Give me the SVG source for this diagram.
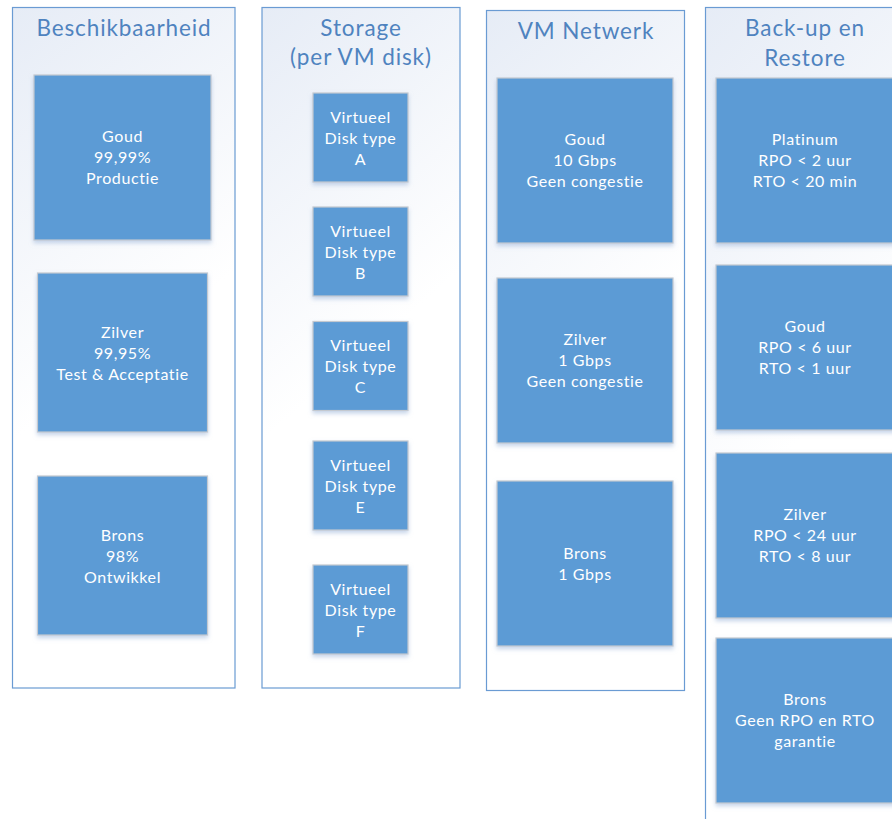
<svg xmlns="http://www.w3.org/2000/svg" width="892" height="819" viewBox="0 0 892 819">
<defs>
  <linearGradient id="cg" x1="0" y1="0" x2="0.25" y2="1">
    <stop offset="0" stop-color="#e6ecf6"/>
    <stop offset="0.6" stop-color="#ffffff"/>
    <stop offset="1" stop-color="#ffffff"/>
  </linearGradient>
  <filter id="sh" x="-10%" y="-10%" width="120%" height="125%">
    <feDropShadow dx="0" dy="2.5" stdDeviation="2" flood-color="#9fb8dc" flood-opacity="0.6"/>
  </filter>
</defs>
<style>
  .cont { fill: url(#cg); stroke: #6a9bd3; stroke-width: 1.2; }
  .box { fill: #5b9bd5; stroke: #c4c9d0; stroke-width: 1.2; filter: url(#sh); }
  .hdr { font-family: Lato, "Open Sans", sans-serif; font-size: 22.5px; letter-spacing: 0.9px; fill: #4f83bf; text-anchor: middle; }
  .lbl { font-family: Lato, "Open Sans", sans-serif; font-size: 16px; letter-spacing: 0.6px; fill: #ffffff; text-anchor: middle; }
</style>
<rect width="892" height="819" fill="#ffffff"/>

<g id="col-beschikbaarheid">
  <rect class="cont" x="12.5" y="7.5" width="222.5" height="680.5"/>
  <text class="hdr" x="124" y="36">Beschikbaarheid</text>
  <g id="besch-goud">
    <rect class="box" x="34" y="75" width="177" height="165"/>
    <text class="lbl" x="122.5" y="142">Goud</text>
    <text class="lbl" x="122.5" y="163">99,99%</text>
    <text class="lbl" x="122.5" y="184">Productie</text>
  </g>
  <g id="besch-zilver">
    <rect class="box" x="37.5" y="273" width="170" height="159"/>
    <text class="lbl" x="122.5" y="338">Zilver</text>
    <text class="lbl" x="122.5" y="359">99,95%</text>
    <text class="lbl" x="122.5" y="380">Test &amp; Acceptatie</text>
  </g>
  <g id="besch-brons">
    <rect class="box" x="37.5" y="476" width="170" height="159"/>
    <text class="lbl" x="122.5" y="541">Brons</text>
    <text class="lbl" x="122.5" y="562">98%</text>
    <text class="lbl" x="122.5" y="583">Ontwikkel</text>
  </g>
</g>

<g id="col-storage">
  <rect class="cont" x="262" y="7.5" width="198" height="680.5"/>
  <text class="hdr" x="361" y="36">Storage</text>
  <text class="hdr" x="361" y="65">(per VM disk)</text>
  <g id="disk-a">
    <rect class="box" x="313" y="93" width="95" height="89"/>
    <text class="lbl" x="360.5" y="122.5">Virtueel</text>
    <text class="lbl" x="360.5" y="143.5">Disk type</text>
    <text class="lbl" x="360.5" y="164.5">A</text>
  </g>
  <g id="disk-b">
    <rect class="box" x="313" y="207" width="95" height="89"/>
    <text class="lbl" x="360.5" y="236.5">Virtueel</text>
    <text class="lbl" x="360.5" y="257.5">Disk type</text>
    <text class="lbl" x="360.5" y="278.5">B</text>
  </g>
  <g id="disk-c">
    <rect class="box" x="313" y="321.5" width="95" height="89"/>
    <text class="lbl" x="360.5" y="350.5">Virtueel</text>
    <text class="lbl" x="360.5" y="371.5">Disk type</text>
    <text class="lbl" x="360.5" y="392.5">C</text>
  </g>
  <g id="disk-e">
    <rect class="box" x="313" y="441" width="95" height="89"/>
    <text class="lbl" x="360.5" y="470.5">Virtueel</text>
    <text class="lbl" x="360.5" y="491.5">Disk type</text>
    <text class="lbl" x="360.5" y="512.5">E</text>
  </g>
  <g id="disk-f">
    <rect class="box" x="313" y="565" width="95" height="89"/>
    <text class="lbl" x="360.5" y="594.5">Virtueel</text>
    <text class="lbl" x="360.5" y="615.5">Disk type</text>
    <text class="lbl" x="360.5" y="636.5">F</text>
  </g>
</g>

<g id="col-netwerk">
  <rect class="cont" x="486.5" y="10.5" width="198" height="680"/>
  <text class="hdr" x="586" y="39">VM Netwerk</text>
  <g id="net-goud">
    <rect class="box" x="497" y="78" width="176" height="165"/>
    <text class="lbl" x="585" y="144.5">Goud</text>
    <text class="lbl" x="585" y="165.5">10 Gbps</text>
    <text class="lbl" x="585" y="186.5">Geen congestie</text>
  </g>
  <g id="net-zilver">
    <rect class="box" x="497" y="278" width="176" height="165"/>
    <text class="lbl" x="585" y="344.5">Zilver</text>
    <text class="lbl" x="585" y="365.5">1 Gbps</text>
    <text class="lbl" x="585" y="386.5">Geen congestie</text>
  </g>
  <g id="net-brons">
    <rect class="box" x="497" y="481" width="176" height="165"/>
    <text class="lbl" x="585" y="559">Brons</text>
    <text class="lbl" x="585" y="580">1 Gbps</text>
  </g>
</g>

<g id="col-backup">
  <rect class="cont" x="705.5" y="7.5" width="200" height="830"/>
  <text class="hdr" x="805" y="36">Back-up en</text>
  <text class="hdr" x="805" y="66">Restore</text>
  <g id="bk-platinum">
    <rect class="box" x="716" y="78" width="180" height="165"/>
    <text class="lbl" x="805" y="144.5">Platinum</text>
    <text class="lbl" x="805" y="165.5">RPO &lt; 2 uur</text>
    <text class="lbl" x="805" y="186.5">RTO &lt; 20 min</text>
  </g>
  <g id="bk-goud">
    <rect class="box" x="716" y="265" width="180" height="165"/>
    <text class="lbl" x="805" y="332">Goud</text>
    <text class="lbl" x="805" y="353">RPO &lt; 6 uur</text>
    <text class="lbl" x="805" y="374">RTO &lt; 1 uur</text>
  </g>
  <g id="bk-zilver">
    <rect class="box" x="716" y="453" width="180" height="165"/>
    <text class="lbl" x="805" y="520">Zilver</text>
    <text class="lbl" x="805" y="541">RPO &lt; 24 uur</text>
    <text class="lbl" x="805" y="562">RTO &lt; 8 uur</text>
  </g>
  <g id="bk-brons">
    <rect class="box" x="716" y="638" width="180" height="165"/>
    <text class="lbl" x="805" y="705">Brons</text>
    <text class="lbl" x="805" y="726">Geen RPO en RTO</text>
    <text class="lbl" x="805" y="747">garantie</text>
  </g>
</g>

<g id="connectors"></g>
</svg>
